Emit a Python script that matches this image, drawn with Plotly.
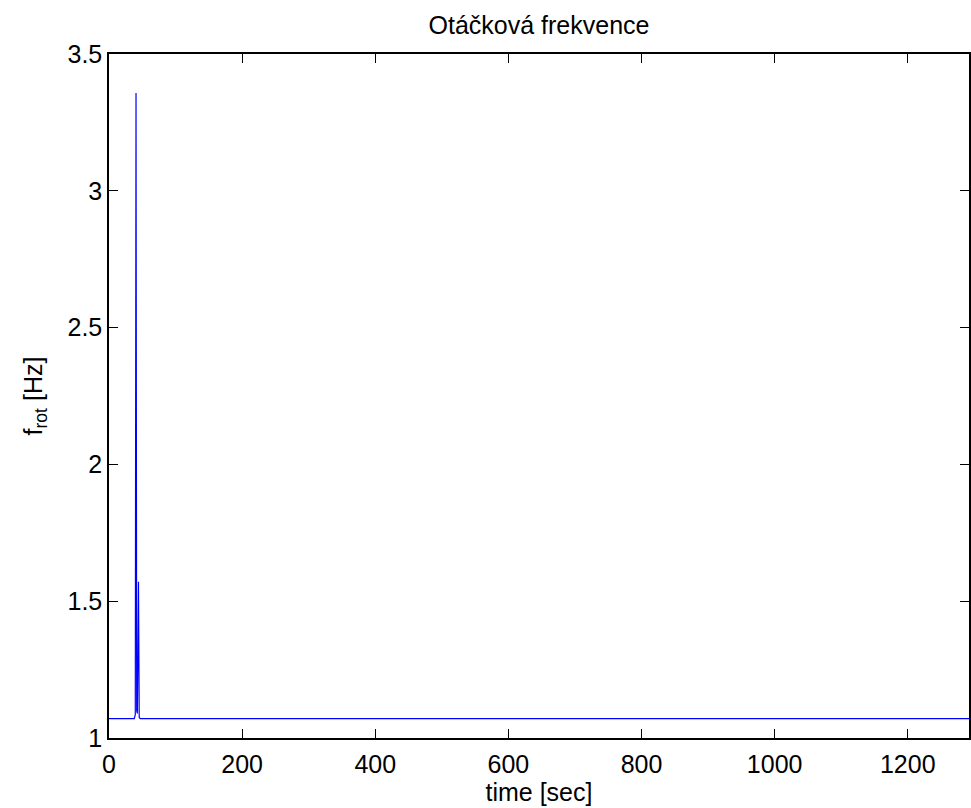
import plotly.graph_objects as go

time_sec = [0, 38.0, 39.5, 40.6, 41.6, 42.6, 44.3, 45.4, 47.0, 1300]
f_rot_hz = [1.0705, 1.0705, 1.085, 3.357, 1.10, 1.09, 1.571, 1.075, 1.0705, 1.0705]

x_ticks = [0, 200, 400, 600, 800, 1000, 1200]
y_ticks = [1, 1.5, 2, 2.5, 3, 3.5]

FONT = "Liberation Sans, Arial, sans-serif"
FS = 25

fig = go.Figure()
fig.add_trace(go.Scatter(
    x=time_sec, y=f_rot_hz, mode="lines",
    line=dict(color="#0000ff", width=1.2),
    showlegend=False, hoverinfo="skip",
))

fig.update_layout(
    width=971, height=808,
    margin=dict(l=109, r=0, t=54, b=70),
    paper_bgcolor="white", plot_bgcolor="white",
    font=dict(family=FONT, size=FS, color="black"),
    title=dict(text="Otáčková frekvence", x=0.5, xanchor="center", xref="paper",
               y=1 - 25 / 808, yref="container", yanchor="middle",
               font=dict(family=FONT, size=FS, color="black")),
)
fig.update_xaxes(
    range=[0, 1292], tickmode="array", tickvals=x_ticks,
    ticks="inside", ticklen=9, tickcolor="black", tickwidth=1,
    showline=True, linecolor="black", linewidth=1.5, mirror="ticks",
    showgrid=False, zeroline=False, ticklabelstandoff=3,
    tickfont=dict(family=FONT, size=FS),
    title=dict(text="time [sec]", font=dict(family=FONT, size=FS), standoff=1),
)
fig.update_yaxes(
    range=[1, 3.5], tickmode="array", tickvals=y_ticks,
    ticks="inside", ticklen=9, tickcolor="black", tickwidth=1,
    showline=True, linecolor="black", linewidth=1.5, mirror="ticks",
    showgrid=False, zeroline=False,
    tickfont=dict(family=FONT, size=FS),
    title=dict(text="f<sub>rot</sub> [Hz]", font=dict(family=FONT, size=FS), standoff=18),
)

fig.write_html("out.html")
